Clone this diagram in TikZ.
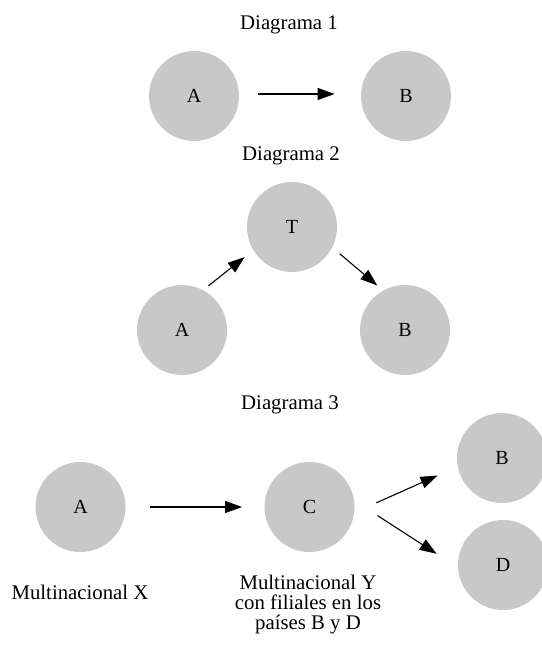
\documentclass[tikz,border=0pt]{standalone}
\usepackage{fontspec}
\setmainfont{Liberation Serif}
\usepackage{tikz}
\usetikzlibrary{arrows.meta,positioning}
\definecolor{circgray}{RGB}{200,200,200}

\begin{document}
\begin{tikzpicture}[x=0.5pt,y=-0.5pt,
    circ/.style={circle,fill=circgray,minimum size=45pt,inner sep=0pt,font=\fontsize{10}{12}\selectfont},
    flecha/.style={-{Triangle[length=8.5pt,width=6pt]},line width=0.55pt},
    titulo/.style={font=\fontsize{10.4}{12}\selectfont},
    etiq/.style={align=center,font=\fontsize{10.4}{10}\selectfont}]
    \useasboundingbox (0,0) rectangle (541,647);

    % Diagram 1
    \node[titulo] (t1) at (289,25) {Diagrama 1};
    \node[circ] (d1a) at (194,96) {A};
    \node[circ] (d1b) at (406,96) {B};
    \draw[flecha,shorten <=9.5pt,shorten >=13pt] ([yshift=1pt]d1a.east) -- ([yshift=1pt]d1b.west);

    % Diagram 2
    \node[titulo] (t2) at (291,156) {Diagrama 2};
    \node[circ] (d2t) at (292,227) {T};
    \node[circ] (d2a) at (182,330) {A};
    \node[circ] (d2b) at (405,330) {B};
    \draw[flecha,shorten <=3.3pt,shorten >=5.4pt] (d2a.62.5) -- (d2t.211.2);
    \draw[flecha,shorten <=4.7pt,shorten >=3.75pt] (d2t.-27.8) -- (d2b.119.6);

    % Diagram 3
    \node[titulo] (t3) at (290,405) {Diagrama 3};
    \node[circ] (d3a) at (80.5,507) {A};
    \node[circ] (d3c) at (309.5,507) {C};
    \node[circ] (d3b) at (502,458) {B};
    \node[circ] (d3d) at (503,565) {D};
    \draw[flecha,shorten <=12pt,shorten >=11pt] (d3a.east) -- (d3c.west);
    \draw[flecha,shorten <=11.9pt,shorten >=10.9pt] (d3c.-7) -- (d3b.191.9);
    \draw[flecha,shorten <=13.75pt,shorten >=12.5pt] (d3c.8.9) -- (d3d.183.3);

    % Labels
    \node[etiq] (lx) at (80,592) {Multinacional X};
    \node[etiq] (ly) at (308,605) {Multinacional Y\\con filiales en los\\países B y D};

\end{tikzpicture}
\end{document}
